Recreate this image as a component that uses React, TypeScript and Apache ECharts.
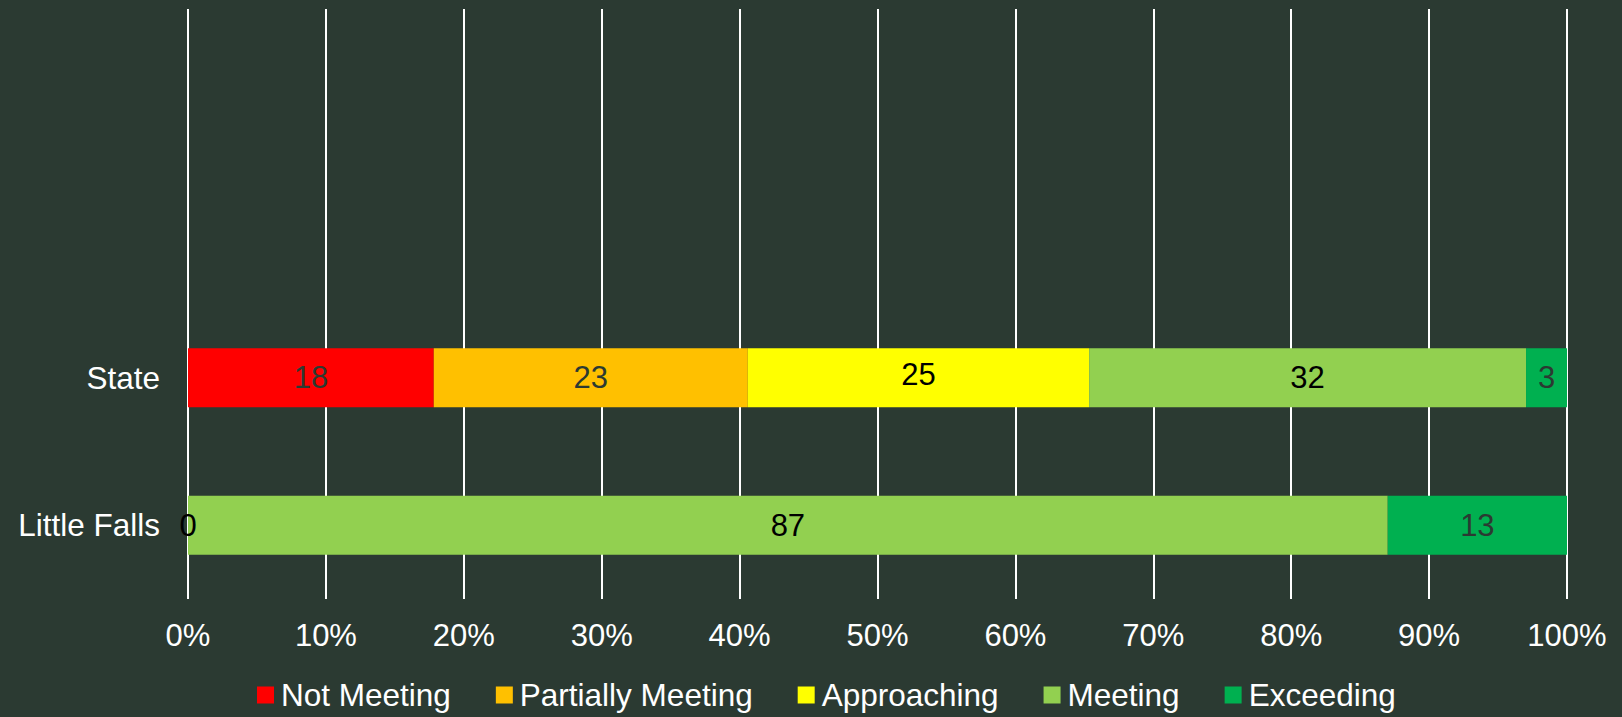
import React, { useEffect, useRef } from "react";
import * as echarts from "echarts";

const categories = ["Little Falls", "State", "", ""];
const seriesNames = ["Not Meeting", "Partially Meeting", "Approaching", "Meeting", "Exceeding"];
const seriesColors = ["#FF0000", "#FFC000", "#FFFF00", "#92D050", "#00B050"];
const labelColors = ["#2b3a32", "#2b3a32", "#000000", "#000000", "#2b3a32"];
// raw values per category (Little Falls, State)
const notMeeting = [0, 18];
const partiallyMeeting = [0, 23];
const approaching = [0, 25];
const meeting = [87, 32];
const exceeding = [13, 3];
const xTicks = [0, 10, 20, 30, 40, 50, 60, 70, 80, 90, 100];

const FONT = "'Liberation Sans', Arial, sans-serif";

export default function App() {
  const ref = useRef<HTMLDivElement>(null);
  useEffect(() => {
    if (!ref.current) return;
    const chart = echarts.init(ref.current, undefined, { renderer: "svg" });
    const raw = [notMeeting, partiallyMeeting, approaching, meeting, exceeding];
    const totals = categories.map((_, ci) =>
      ci < 2 ? raw.reduce((s, arr) => s + arr[ci], 0) : 0
    );
    const series = raw.map((arr, si) => ({
      name: seriesNames[si],
      type: "bar",
      stack: "total",
      barWidth: 59,
      itemStyle: { color: seriesColors[si] },
      label: {
        show: true,
        position: "inside",
        color: labelColors[si],
        fontSize: 31,
        fontFamily: FONT,
        formatter: (p: any) => String(arr[p.dataIndex]),
      },
      data: arr.map((v, ci) => {
        const item: any = { value: (v / totals[ci]) * 100 };
        if (v === 0 && si !== 0) item.label = { show: false };
        if (v === 0 && si === 0) item.label = { color: "#000000" };
        if (si === 2 && ci === 1) item.label = { offset: [0, -3] };
        return item;
      }),
    }));
    chart.setOption({
      animation: false,
      backgroundColor: "#2b3a32",
      grid: { left: 188, right: 55, top: 9, bottom: 118 },
      xAxis: {
        type: "value",
        min: 0,
        max: 100,
        interval: 10,
        axisLine: { show: false },
        axisTick: { show: false },
        splitLine: { show: true, lineStyle: { color: "#ffffff", width: 2 } },
        axisLabel: {
          color: "#ffffff",
          fontSize: 31,
          fontFamily: FONT,
          margin: 21,
          formatter: (v: number) => (xTicks.includes(v) ? v + "%" : ""),
        },
      },
      yAxis: {
        type: "category",
        data: categories,
        axisLine: { show: false },
        axisTick: { show: false },
        axisLabel: { color: "#ffffff", fontSize: 31.5, fontFamily: FONT, margin: 28 },
      },
      legend: {
        data: seriesNames,
        left: 257,
        top: 679,
        padding: 0,
        itemWidth: 17,
        itemHeight: 17,
        itemGap: 45,
        icon: "rect",
        textStyle: { color: "#ffffff", fontSize: 31.5, fontFamily: FONT, padding: [0, 0, 0, 2] },
      },
      series,
    });
    return () => chart.dispose();
  }, []);
  return (
    <div
      ref={ref}
      style={{ position: "fixed", left: 0, top: 0, width: 1622, height: 717 }}
    />
  );
}
